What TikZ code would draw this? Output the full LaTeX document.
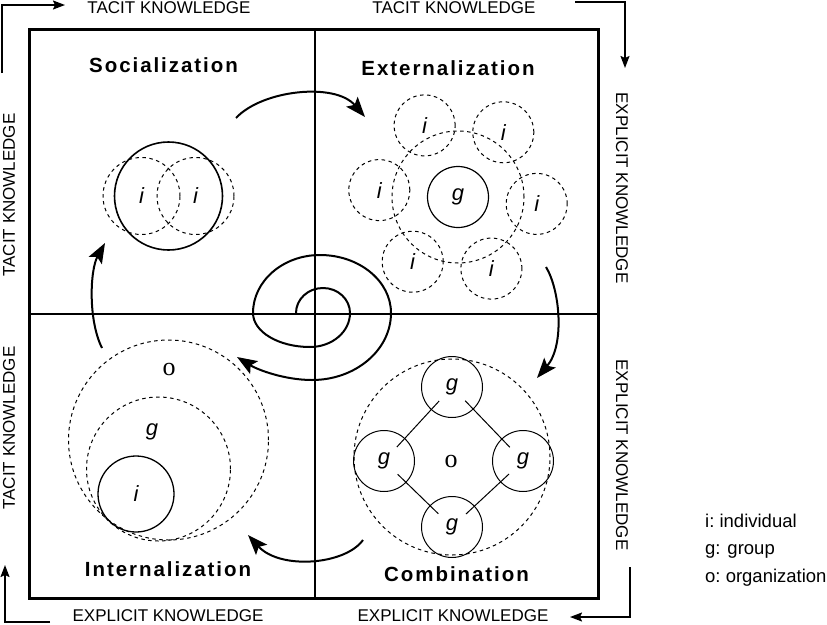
\documentclass[tikz,border=0pt]{standalone}
\usepackage{fontspec}
\setmainfont{Liberation Sans}
\newfontfamily\serifo{Liberation Serif}
\newfontfamily\titlefont[LetterSpace=9.5]{Liberation Sans Bold}
\usetikzlibrary{arrows.meta,calc}

\begin{document}
\begin{tikzpicture}[x=1pt, y=-1pt, % screen-like units, y grows downwards
  quadtitle/.style={font=\titlefont\fontsize{20.5}{23}\selectfont, inner sep=0},
  axislabel/.style={font=\fontsize{17}{19}\selectfont, inner sep=0},
  axisarrow/.style={line width=1.6pt, -{Stealth[length=12pt,width=9pt,inset=2pt]}},
  turn/.style={line width=2pt, -{Stealth[length=20pt,width=15pt,inset=4pt]}},
  ring/.style={circle, draw, line width=1.2pt, inner sep=0, font=\itshape\fontsize{22}{26}\selectfont},
  dashring/.style={circle, draw, line width=1pt, dash pattern=on 3.5pt off 3.5pt, inner sep=0, font=\itshape\fontsize{22}{26}\selectfont},
  orglabel/.style={font=\serifo\fontsize{26}{28}\selectfont, inner sep=0},
  grplabel/.style={font=\itshape\fontsize{22}{26}\selectfont, inner sep=0},
  link/.style={line width=1pt, shorten <=-12pt, shorten >=-12pt},
  keytext/.style={font=\fontsize{18.5}{20}\selectfont, inner sep=0, anchor=base west}]

  \useasboundingbox (0,0) rectangle (827,624);

  % Frame and quadrant lines
  \draw[line width=3pt] (29,29) rectangle (598,598);
  \draw[line width=1.3pt] (315,29) -- (315,598);
  \draw[line width=1.3pt] (29,314) -- (598,314);

  % Axis arrows round the frame
  \draw[axisarrow] (2,73) -- (2,5) -- (65,5);
  \draw[axisarrow] (575,2) -- (625,2) -- (625,68);
  \draw[axisarrow] (630,567) -- (630,617) -- (570,617);
  \draw[axisarrow] (50,622) -- (5,622) -- (5,565);

  % Axis labels
  \node[axislabel] (top l) at (169,7.5) {TACIT KNOWLEDGE};
  \node[axislabel] (top r) at (454,7.5) {TACIT KNOWLEDGE};
  \node[axislabel, rotate=-90] (right t) at (622,188) {EXPLICIT KNOWLEDGE};
  \node[axislabel, rotate=-90] (right b) at (622,455) {EXPLICIT KNOWLEDGE};
  \node[axislabel] (bot l) at (168,615.5) {EXPLICIT KNOWLEDGE};
  \node[axislabel] (bot r) at (453,615.5) {EXPLICIT KNOWLEDGE};
  \node[axislabel, rotate=90] (left t) at (9,195) {TACIT KNOWLEDGE};
  \node[axislabel, rotate=90] (left b) at (9,428) {TACIT KNOWLEDGE};

  % Quadrant titles
  \node[quadtitle] (soc) at (163.5,65) {Socialization};
  \node[quadtitle] (ext) at (448,68.5) {Externalization};
  \node[quadtitle] (int) at (168,569.5) {Internalization};
  \node[quadtitle] (com) at (456.5,574.5) {Combination};

  % Socialization: two individuals sharing
  \node[ring, line width=1.6pt, minimum size=108pt] (soc grp) at (168.5,196) {};
  \node[dashring, minimum size=77pt] (soc i1) at (141.5,196) {i};
  \node[dashring, minimum size=77pt] (soc i2) at (195.5,196) {i};

  % Externalization: individuals round a group
  \coordinate (ext c) at (458,197);
  \node[dashring, minimum size=132pt] (ext grp) at (ext c) {};
  \node[ring, minimum size=61pt] (ext g) at (ext c) {g};
  \foreach \a [count=\k] in {5,65,...,305}
    \node[dashring, minimum size=61pt] (ext i\k) at ($(ext c)+(\a:79)$) {i};

  % Combination: groups inside the organization
  \node[dashring, minimum size=196pt] (com o) at (452,457) {};
  \node[orglabel] (com o lbl) at (451,461) {o};
  \node[ring, line width=1pt, minimum size=61pt] (com g1) at (452,387) {g};
  \node[ring, line width=1pt, minimum size=61pt] (com g2) at (523,461) {g};
  \node[ring, line width=1pt, minimum size=61pt] (com g3) at (452,527) {g};
  \node[ring, line width=1pt, minimum size=61pt] (com g4) at (384,461) {g};
  \draw[link] (com g1) -- (com g2);
  \draw[link] (com g2) -- (com g3);
  \draw[link] (com g3) -- (com g4);
  \draw[link] (com g4) -- (com g1);

  % Internalization: nested individual, group, organization
  \node[dashring, minimum size=200pt] (int o) at (168.5,440) {};
  \node[dashring, minimum size=144pt] (int g) at (158.5,469) {};
  \node[ring, line width=1.3pt, minimum size=76pt] (int i) at (136,494) {i};
  \node[orglabel] (int o lbl) at (169,369) {o};
  \node[grplabel] (int g lbl) at (152,432) {g};

  % Arrows between the quadrants
  \coordinate (s2e a) at (236,118);
  \coordinate (s2e b) at (365,117);
  \coordinate (e2c a) at (546,267);
  \coordinate (e2c b) at (537,378);
  \coordinate (c2i a) at (363,540);
  \coordinate (c2i b) at (248,535);
  \coordinate (i2s a) at (102,348);
  \coordinate (i2s b) at (105,243);
  \draw[turn] (s2e a) .. controls (262,90) and (335,82) .. (s2e b);
  \draw[turn] (e2c a) .. controls (560,290) and (565,345) .. (e2c b);
  \draw[turn] (c2i a) .. controls (345,565) and (280,570) .. (c2i b);
  \draw[turn] (i2s a) .. controls (88,320) and (90,270) .. (i2s b);

  % Spiral in the middle, quarter by quarter
  \draw[turn] (296,313)
    .. controls (296,299.2) and (308.1,288) .. (323,288)
    .. controls (337.9,288) and (350,299.2) .. (350,313)
    .. controls (350,331.8) and (332.1,347) .. (310,347)
    .. controls (278.5,347) and (253,331.8) .. (253,313)
    .. controls (253,281) and (283,255) .. (320,255)
    .. controls (359.2,255) and (391,281) .. (391,313)
    .. controls (391,350) and (355.6,380) .. (312,380)
    .. controls (285,380) and (258,370) .. (237,357);

  % Key
  \node[keytext] (key i) at (705,527) {i:\ individual};
  \node[keytext] (key g) at (705,554) {g: group};
  \node[keytext] (key o) at (705,582) {o:\ organization};
\end{tikzpicture}
\end{document}
